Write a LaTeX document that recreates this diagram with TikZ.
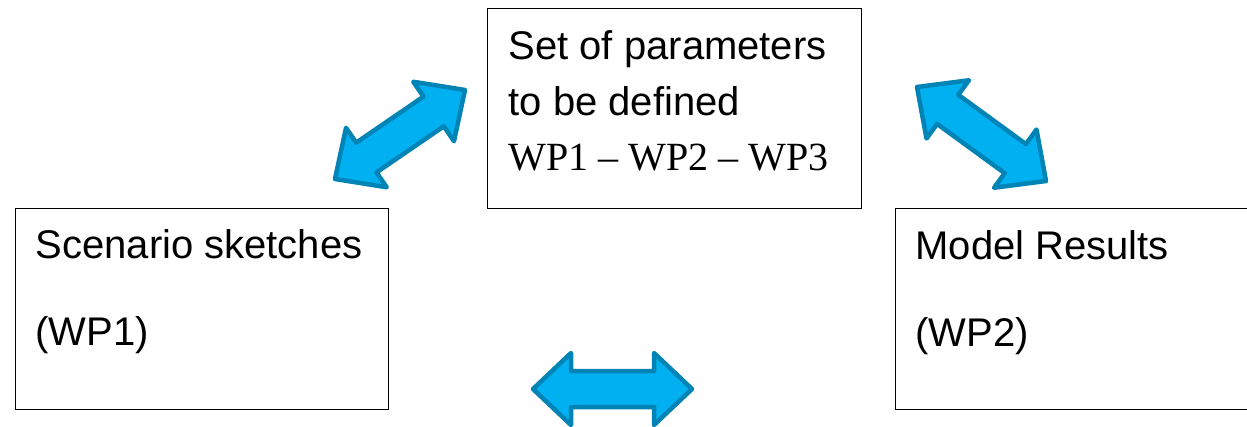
\documentclass[tikz,border=0pt]{standalone}
\usepackage{fontspec}
\setmainfont{Liberation Sans}
\newfontfamily\timesfont{Liberation Serif}
\usetikzlibrary{calc}
\definecolor{arrowfill}{HTML}{00B0F0}
\definecolor{arrowline}{HTML}{0083B5}
\tikzset{
  box/.style={draw=black, line width=1.2pt, inner sep=0pt, anchor=north west, fill=white},
  blockarrow/.style={draw=arrowline, fill=arrowfill, line width=4.5pt, line join=round}
}
\newcommand\dblblockarrow[2]{%
  \path ($(#1)!38pt!(#2)$) coordinate (#1-h) ($(#2)!38pt!(#1)$) coordinate (#2-h);
  \draw[blockarrow] (#1)
   -- ($(#1-h)!36pt!90:(#2)$) -- ($(#1-h)!18pt!90:(#2)$)
   -- ($(#2-h)!18pt!-90:(#1)$) -- ($(#2-h)!36pt!-90:(#1)$)
   -- (#2)
   -- ($(#2-h)!36pt!90:(#1)$) -- ($(#2-h)!18pt!90:(#1)$)
   -- ($(#1-h)!18pt!-90:(#2)$) -- ($(#1-h)!36pt!-90:(#2)$) -- cycle;
}
\begin{document}
\begin{tikzpicture}[x=1pt,y=-1pt]
\useasboundingbox (0,0) rectangle (1247,426);
\clip (0,0) rectangle (1247,426);
\node[box] (scen) at (15,208) {\parbox[t][201pt][t]{373pt}{\leftskip=20pt \fontsize{40pt}{87pt}\selectfont\rule{0pt}{50pt}Scenario sketches\\(WP1)}};
\node[box] (params) at (487,8) {\parbox[t][200pt][t]{374pt}{\leftskip=21pt \fontsize{40pt}{55.5pt}\selectfont\rule{0pt}{51pt}Set of parameters\\to be defined\\{\timesfont WP1 – WP2 – WP3}}};
\node[box] (model) at (895,208) {\parbox[t][201pt][t]{373pt}{\leftskip=20pt \fontsize{40pt}{87pt}\selectfont\rule{0pt}{51pt}Model Results\\(WP2)}};
\coordinate (tl1) at (335,179); \coordinate (tl2) at (465,90);
\coordinate (tr1) at (917,87);  \coordinate (tr2) at (1046,181);
\coordinate (b1) at (533,389);  \coordinate (b2) at (692,389);
\dblblockarrow{tl1}{tl2}
\dblblockarrow{tr1}{tr2}
\dblblockarrow{b1}{b2}
\end{tikzpicture}
\end{document}
